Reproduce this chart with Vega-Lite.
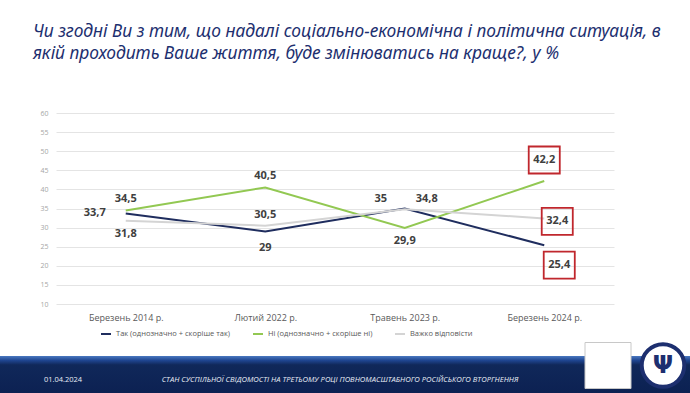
{
  "$schema": "https://vega.github.io/schema/vega-lite/v6.json",
  "padding": {"left": 0, "right": 0, "top": 22, "bottom": 0},
  "background": "white",
  "spacing": -2,
  "resolve": {"scale": {"x": "independent", "y": "independent", "color": "independent"}, "legend": {"color": "independent"}},
  "config": {
    "locale": {"number": {"decimal": ",", "thousands": " ", "grouping": [3], "currency": ["", ""]}},
    "view": {"stroke": null},
    "font": "Open Sans"
  },
  "vconcat": [
    {
      "spacing": 32,
      "resolve": {"scale": {"x": "independent", "y": "independent"}},
      "hconcat": [
        {
          "width": 1,
          "height": 1,
          "data": {"values": [{"item": "spacer"}]},
          "mark": {"type": "point", "opacity": 0, "size": 0}
        },
        {
          "width": 558,
          "height": 191,
          "title": {
            "text": ["Чи згодні Ви з тим, що надалі соціально-економічна і політична ситуація, в", "якій проходить Ваше життя, буде змінюватись на краще?, у %"],
            "anchor": "start",
            "frame": "group",
            "dx": -23,
            "offset": 47,
            "fontSize": 17.4,
            "font": "Noto Sans",
            "fontStyle": "italic",
            "fontWeight": "normal",
            "color": "#1d2f6f",
            "lineHeight": 22
          },
          "data": {
            "values": [
              {"date": "Березень 2014 р.", "series": "Так (однозначно + скоріше так)", "value": 33.7},
              {"date": "Березень 2014 р.", "series": "Ні (однозначно + скоріше ні)", "value": 34.5},
              {"date": "Березень 2014 р.", "series": "Важко відповісти", "value": 31.8},
              {"date": "Лютий 2022 р.", "series": "Так (однозначно + скоріше так)", "value": 29},
              {"date": "Лютий 2022 р.", "series": "Ні (однозначно + скоріше ні)", "value": 40.5},
              {"date": "Лютий 2022 р.", "series": "Важко відповісти", "value": 30.5},
              {"date": "Травень 2023 р.", "series": "Так (однозначно + скоріше так)", "value": 35},
              {"date": "Травень 2023 р.", "series": "Ні (однозначно + скоріше ні)", "value": 29.9},
              {"date": "Травень 2023 р.", "series": "Важко відповісти", "value": 34.8},
              {"date": "Березень 2024 р.", "series": "Так (однозначно + скоріше так)", "value": 25.4},
              {"date": "Березень 2024 р.", "series": "Ні (однозначно + скоріше ні)", "value": 42.2},
              {"date": "Березень 2024 р.", "series": "Важко відповісти", "value": 32.4}
            ]
          },
          "encoding": {
            "x": {
              "field": "date",
              "type": "ordinal",
              "sort": ["Березень 2014 р.", "Лютий 2022 р.", "Травень 2023 р.", "Березень 2024 р."],
              "scale": {"type": "point", "padding": 0.5},
              "axis": {"title": null, "domain": false, "ticks": false, "labelAngle": 0, "labelFontSize": 9, "labelColor": "#595959", "labelPadding": 9}
            },
            "y": {
              "field": "value",
              "type": "quantitative",
              "scale": {"domain": [10, 60], "nice": false, "zero": false},
              "axis": {
                "title": null,
                "values": [10, 15, 20, 25, 30, 35, 40, 45, 50, 55, 60],
                "domain": false, "ticks": false, "grid": true, "gridColor": "#e4e4e4", "gridWidth": 1,
                "labelColor": "#a6a6a6", "labelFontSize": 7, "labelPadding": 8
              }
            }
          },
          "layer": [
            {
              "mark": {"type": "line", "strokeWidth": 2},
              "encoding": {
                "color": {
                  "field": "series",
                  "type": "nominal",
                  "scale": {"domain": ["Так (однозначно + скоріше так)", "Ні (однозначно + скоріше ні)", "Важко відповісти"], "range": ["#1f2d5e", "#92c852", "#d4d4d4"]},
                  "legend": {"orient": "none", "legendX": 100, "legendY": 215, "direction": "horizontal", "title": null, "symbolType": "stroke", "symbolStrokeWidth": 2, "symbolSize": 100, "labelFontSize": 7.5, "labelColor": "#595959", "columnPadding": 18}
                }
              }
            },
            {
              "transform": [{"filter": "datum.date == 'Березень 2024 р.' && datum.series == 'Ні (однозначно + скоріше ні)'"}],
              "mark": {"type": "point", "shape": "M-1.15,-1H1.15V1H-1.15Z", "size": 729, "filled": false, "stroke": "#c0272d", "strokeWidth": 1.8, "opacity": 1, "yOffset": -21}
            },
            {
              "transform": [{"filter": "datum.date == 'Березень 2024 р.' && datum.series == 'Важко відповісти'"}],
              "mark": {"type": "point", "shape": "M-1.15,-1H1.15V1H-1.15Z", "size": 729, "filled": false, "stroke": "#c0272d", "strokeWidth": 1.8, "opacity": 1, "xOffset": 13, "yOffset": 3}
            },
            {
              "transform": [{"filter": "datum.date == 'Березень 2024 р.' && datum.series == 'Так (однозначно + скоріше так)'"}],
              "mark": {"type": "point", "shape": "M-1.15,-1H1.15V1H-1.15Z", "size": 729, "filled": false, "stroke": "#c0272d", "strokeWidth": 1.8, "opacity": 1, "xOffset": 15, "yOffset": 20}
            },
            {
              "transform": [{"filter": "(datum.series == 'Ні (однозначно + скоріше ні)' && (datum.date == 'Березень 2014 р.' || datum.date == 'Лютий 2022 р.')) || (datum.series == 'Важко відповісти' && datum.date == 'Лютий 2022 р.')"}],
              "mark": {"type": "text", "fontSize": 11, "fontWeight": "bold", "color": "#404040", "dy": -11},
              "encoding": {"text": {"field": "value", "type": "quantitative", "format": ".3~r"}}
            },
            {
              "transform": [{"filter": "(datum.series == 'Важко відповісти' && datum.date == 'Березень 2014 р.') || (datum.series == 'Ні (однозначно + скоріше ні)' && datum.date == 'Травень 2023 р.')"}],
              "mark": {"type": "text", "fontSize": 11, "fontWeight": "bold", "color": "#404040", "dy": 13},
              "encoding": {"text": {"field": "value", "type": "quantitative", "format": ".3~r"}}
            },
            {
              "transform": [{"filter": "datum.series == 'Так (однозначно + скоріше так)' && datum.date == 'Лютий 2022 р.'"}],
              "mark": {"type": "text", "fontSize": 11, "fontWeight": "bold", "color": "#404040", "dy": 17},
              "encoding": {"text": {"field": "value", "type": "quantitative", "format": ".3~r"}}
            },
            {
              "transform": [{"filter": "datum.series == 'Так (однозначно + скоріше так)' && datum.date == 'Березень 2014 р.'"}],
              "mark": {"type": "text", "fontSize": 11, "fontWeight": "bold", "color": "#404040", "dx": -31},
              "encoding": {"text": {"field": "value", "type": "quantitative", "format": ".3~r"}}
            },
            {
              "transform": [{"filter": "datum.series == 'Так (однозначно + скоріше так)' && datum.date == 'Травень 2023 р.'"}],
              "mark": {"type": "text", "fontSize": 11, "fontWeight": "bold", "color": "#404040", "dx": -24, "dy": -10},
              "encoding": {"text": {"field": "value", "type": "quantitative", "format": ".3~r"}}
            },
            {
              "transform": [{"filter": "datum.series == 'Важко відповісти' && datum.date == 'Травень 2023 р.'"}],
              "mark": {"type": "text", "fontSize": 11, "fontWeight": "bold", "color": "#404040", "dx": 22, "dy": -10},
              "encoding": {"text": {"field": "value", "type": "quantitative", "format": ".3~r"}}
            },
            {
              "transform": [{"filter": "datum.series == 'Ні (однозначно + скоріше ні)' && datum.date == 'Березень 2024 р.'"}],
              "mark": {"type": "text", "fontSize": 11, "fontWeight": "bold", "color": "#404040", "dy": -21},
              "encoding": {"text": {"field": "value", "type": "quantitative", "format": ".3~r"}}
            },
            {
              "transform": [{"filter": "datum.series == 'Важко відповісти' && datum.date == 'Березень 2024 р.'"}],
              "mark": {"type": "text", "fontSize": 11, "fontWeight": "bold", "color": "#404040", "dx": 13, "dy": 3},
              "encoding": {"text": {"field": "value", "type": "quantitative", "format": ".3~r"}}
            },
            {
              "transform": [{"filter": "datum.series == 'Так (однозначно + скоріше так)' && datum.date == 'Березень 2024 р.'"}],
              "mark": {"type": "text", "fontSize": 11, "fontWeight": "bold", "color": "#404040", "dx": 15, "dy": 20},
              "encoding": {"text": {"field": "value", "type": "quantitative", "format": ".3~r"}}
            }
          ]
        }
      ]
    },
    {
      "width": 690,
      "height": 37,
      "view": {
        "stroke": null,
        "fill": {"gradient": "linear", "x1": 0, "y1": 0, "x2": 0, "y2": 1, "stops": [
          {"offset": 0, "color": "#4a78c0"},
          {"offset": 0.12, "color": "#1f4590"},
          {"offset": 0.24, "color": "#10285a"},
          {"offset": 1, "color": "#0c2152"}
        ]}
      },
      "data": {"values": [
        {"item": "date", "text": "01.04.2024"},
        {"item": "caption", "text": "СТАН СУСПІЛЬНОЇ СВІДОМОСТІ НА ТРЕТЬОМУ РОЦІ ПОВНОМАСШТАБНОГО РОСІЙСЬКОГО ВТОРГНЕННЯ"},
        {"item": "logo1", "text": ""},
        {"item": "logo2", "text": "Ψ"}
      ]},
      "resolve": {"scale": {"x": "independent"}},
      "layer": [
        {
          "transform": [{"filter": "datum.item == 'date'"}],
          "mark": {"type": "text", "color": "#e8ecf5", "fontSize": 7.5, "yOffset": 5},
          "encoding": {
            "x": {"field": "item", "type": "nominal", "scale": {"type": "point", "padding": 0, "domain": ["date", "caption"], "range": [63, 340]}, "axis": null},
            "text": {"field": "text"}
          }
        },
        {
          "transform": [{"filter": "datum.item == 'caption'"}],
          "mark": {"type": "text", "color": "#e8ecf5", "fontSize": 7.6, "fontStyle": "italic", "yOffset": 5},
          "encoding": {
            "x": {"field": "item", "type": "nominal", "scale": {"type": "point", "padding": 0, "domain": ["date", "caption"], "range": [63, 340]}, "axis": null},
            "text": {"field": "text"}
          }
        },
        {
          "transform": [{"filter": "datum.item == 'logo1'"}],
          "mark": {"type": "point", "shape": "square", "size": 2116, "filled": true, "fill": "white", "stroke": "#c8c8c8", "strokeWidth": 1, "opacity": 1, "yOffset": -9, "clip": false},
          "encoding": {
            "x": {"field": "item", "type": "nominal", "scale": {"type": "point", "padding": 0, "domain": ["logo1", "logo2"], "range": [608, 663]}, "axis": null}
          }
        },
        {
          "transform": [{"filter": "datum.item == 'logo2'"}],
          "mark": {"type": "point", "shape": "circle", "size": 1810, "filled": true, "fill": "white", "stroke": "#1d2f6f", "strokeWidth": 4, "opacity": 1, "yOffset": -9, "clip": false},
          "encoding": {
            "x": {"field": "item", "type": "nominal", "scale": {"type": "point", "padding": 0, "domain": ["logo1", "logo2"], "range": [608, 663]}, "axis": null}
          }
        },
        {
          "transform": [{"filter": "datum.item == 'logo2'"}],
          "mark": {"type": "text", "color": "#1d2f6f", "fontSize": 24, "fontWeight": "bold", "font": "DejaVu Sans", "yOffset": -9},
          "encoding": {
            "x": {"field": "item", "type": "nominal", "scale": {"type": "point", "padding": 0, "domain": ["logo1", "logo2"], "range": [608, 663]}, "axis": null},
            "text": {"field": "text"}
          }
        }
      ]
    }
  ]
}
